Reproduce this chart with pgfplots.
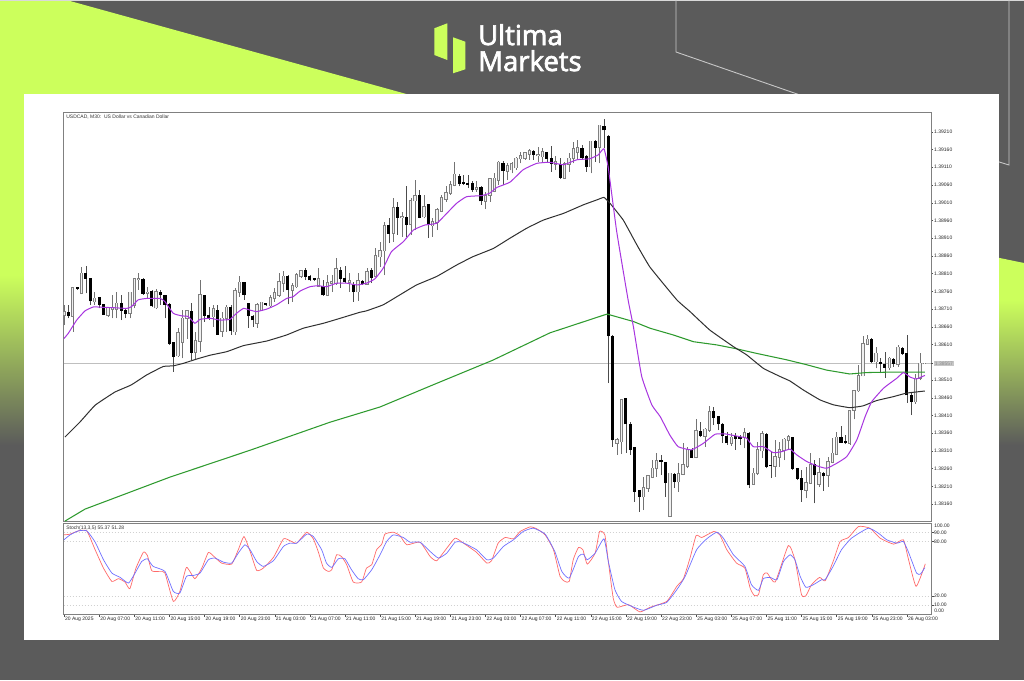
\documentclass[border=0pt]{standalone}
\usepackage{fontspec}
\usepackage{pgfplots}
\usepackage{pgfplotstable}
\pgfplotsset{compat=1.18}
\setmainfont{Liberation Sans}
\newfontfamily\logofont[FakeBold=2.5]{Open Sans}
\definecolor{lime}{HTML}{CCFF5C}
\definecolor{dark}{HTML}{5B5B5B}
\definecolor{maPurple}{HTML}{A835E0}
\definecolor{maBlack}{HTML}{303030}
\definecolor{maGreen}{HTML}{2E9A2E}
\definecolor{stRed}{HTML}{FF6A6A}
\definecolor{stBlue}{HTML}{7070FF}
\definecolor{frameC}{HTML}{808080}

\pgfplotstableread{
i close open high low
0 1.38703 1.38693 1.38722 1.38665
2 1.38770 1.38691 1.38773 1.38646
4 1.38811 1.38754 1.38830 1.38752
7 1.38740 1.38731 1.38759 1.38722
10 1.38714 1.38693 1.38717 1.38689
11 1.38714 1.38710 1.38750 1.38684
12 1.38726 1.38710 1.38759 1.38684
15 1.38757 1.38698 1.38759 1.38684
16 1.38795 1.38722 1.38797 1.38712
17 1.38795 1.38793 1.38811 1.38764
19 1.38757 1.38754 1.38773 1.38740
21 1.38759 1.38714 1.38767 1.38710
26 1.38644 1.38579 1.38656 1.38576
27 1.38684 1.38616 1.38707 1.38571
28 1.38705 1.38684 1.38707 1.38627
30 1.38620 1.38588 1.38646 1.38566
31 1.38750 1.38620 1.38792 1.38590
34 1.38710 1.38689 1.38722 1.38660
36 1.38684 1.38648 1.38703 1.38632
37 1.38715 1.38684 1.38722 1.38646
39 1.38761 1.38646 1.38769 1.38637
40 1.38785 1.38757 1.38802 1.38745
44 1.38722 1.38670 1.38726 1.38658
45 1.38729 1.38707 1.38731 1.38706
47 1.38742 1.38720 1.38750 1.38717
48 1.38756 1.38740 1.38770 1.38731
49 1.38786 1.38750 1.38811 1.38745
50 1.38802 1.38783 1.38818 1.38759
52 1.38775 1.38764 1.38783 1.38731
53 1.38806 1.38773 1.38811 1.38769
54 1.38818 1.38802 1.38820 1.38797
58 1.38795 1.38775 1.38825 1.38773
60 1.38783 1.38750 1.38806 1.38748
61 1.38787 1.38783 1.38806 1.38759
62 1.38823 1.38783 1.38853 1.38778
65 1.38789 1.38786 1.38811 1.38759
67 1.38789 1.38759 1.38811 1.38733
69 1.38816 1.38781 1.38825 1.38778
71 1.38861 1.38802 1.38881 1.38800
72 1.38875 1.38858 1.38900 1.38830
73 1.38945 1.38875 1.38955 1.38806
75 1.38996 1.38924 1.39023 1.38900
77 1.38971 1.38968 1.38985 1.38914
79 1.39016 1.38949 1.39024 1.38919
80 1.39030 1.39016 1.39074 1.38933
82 1.38999 1.38971 1.39032 1.38966
84 1.38957 1.38945 1.38966 1.38914
85 1.38990 1.38955 1.38994 1.38933
86 1.39024 1.38987 1.39032 1.38985
87 1.39037 1.39021 1.39056 1.39013
88 1.39060 1.39037 1.39072 1.39032
89 1.39090 1.39060 1.39124 1.39056
94 1.39051 1.39048 1.39070 1.39041
96 1.39029 1.39015 1.39041 1.38992
97 1.39077 1.39032 1.39079 1.39013
98 1.39079 1.39043 1.39093 1.39040
99 1.39124 1.39074 1.39128 1.39060
101 1.39114 1.39100 1.39121 1.39074
102 1.39119 1.39103 1.39126 1.39093
103 1.39135 1.39109 1.39138 1.39103
104 1.39143 1.39134 1.39152 1.39121
105 1.39150 1.39135 1.39154 1.39131
106 1.39156 1.39147 1.39161 1.39131
108 1.39145 1.39143 1.39168 1.39126
109 1.39154 1.39140 1.39164 1.39126
112 1.39126 1.39119 1.39143 1.39103
114 1.39119 1.39079 1.39126 1.39077
115 1.39135 1.39119 1.39150 1.39098
116 1.39162 1.39135 1.39181 1.39121
117 1.39164 1.39152 1.39187 1.39131
120 1.39183 1.39112 1.39184 1.39093
122 1.39228 1.39166 1.39230 1.39121
126 1.38341 1.38332 1.38346 1.38299
127 1.38454 1.38336 1.38456 1.38301
132 1.38205 1.38181 1.38237 1.38143
133 1.38240 1.38205 1.38242 1.38195
134 1.38261 1.38237 1.38284 1.38233
135 1.38283 1.38261 1.38303 1.38237
138 1.38247 1.38126 1.38249 1.38125
140 1.38245 1.38223 1.38275 1.38195
141 1.38270 1.38245 1.38332 1.38242
142 1.38313 1.38268 1.38322 1.38261
144 1.38366 1.38292 1.38399 1.38289
146 1.38371 1.38352 1.38374 1.38322
147 1.38421 1.38369 1.38437 1.38364
152 1.38348 1.38332 1.38360 1.38324
155 1.38362 1.38348 1.38374 1.38317
157 1.38247 1.38216 1.38261 1.38214
158 1.38313 1.38247 1.38336 1.38242
159 1.38358 1.38311 1.38367 1.38289
162 1.38294 1.38268 1.38341 1.38237
163 1.38313 1.38292 1.38336 1.38266
164 1.38343 1.38313 1.38346 1.38284
165 1.38350 1.38341 1.38355 1.38313
169 1.38220 1.38200 1.38266 1.38176
170 1.38270 1.38220 1.38303 1.38219
172 1.38249 1.38216 1.38289 1.38209
174 1.38280 1.38242 1.38294 1.38209
175 1.38303 1.38278 1.38346 1.38275
176 1.38348 1.38300 1.38364 1.38299
179 1.38424 1.38332 1.38426 1.38327
180 1.38480 1.38426 1.38482 1.38399
181 1.38522 1.38480 1.38553 1.38477
182 1.38612 1.38522 1.38633 1.38520
183 1.38625 1.38612 1.38637 1.38609
185 1.38585 1.38562 1.38604 1.38543
188 1.38571 1.38545 1.38576 1.38538
190 1.38602 1.38554 1.38609 1.38548
194 1.38515 1.38449 1.38527 1.38443
195 1.38557 1.38515 1.38587 1.38510
196 1.38557 1.38556 1.38557 1.38556
}\upbars

\pgfplotstableread{
i open close high low
1 1.38701 1.38691 1.38722 1.38684
3 1.38770 1.38767 1.38773 1.38764
5 1.38811 1.38797 1.38832 1.38754
6 1.38797 1.38733 1.38797 1.38722
8 1.38742 1.38722 1.38742 1.38712
9 1.38722 1.38695 1.38723 1.38693
13 1.38726 1.38707 1.38750 1.38679
14 1.38707 1.38698 1.38712 1.38684
18 1.38795 1.38754 1.38797 1.38750
20 1.38759 1.38719 1.38764 1.38717
22 1.38756 1.38750 1.38764 1.38722
23 1.38750 1.38723 1.38750 1.38684
24 1.38723 1.38613 1.38726 1.38609
25 1.38616 1.38576 1.38616 1.38533
29 1.38705 1.38588 1.38726 1.38566
32 1.38750 1.38691 1.38750 1.38675
33 1.38691 1.38684 1.38717 1.38679
35 1.38707 1.38639 1.38722 1.38637
38 1.38715 1.38648 1.38722 1.38637
41 1.38785 1.38752 1.38785 1.38736
42 1.38726 1.38691 1.38726 1.38658
43 1.38689 1.38679 1.38693 1.38660
46 1.38726 1.38722 1.38726 1.38719
51 1.38802 1.38764 1.38806 1.38723
55 1.38818 1.38802 1.38825 1.38792
56 1.38802 1.38792 1.38806 1.38789
57 1.38797 1.38794 1.38799 1.38789
59 1.38773 1.38750 1.38792 1.38748
63 1.38818 1.38797 1.38830 1.38769
64 1.38797 1.38787 1.38832 1.38783
66 1.38778 1.38759 1.38787 1.38731
68 1.38787 1.38781 1.38792 1.38778
70 1.38818 1.38800 1.38825 1.38783
74 1.38945 1.38924 1.38966 1.38896
76 1.38996 1.38969 1.39013 1.38919
78 1.38969 1.38949 1.39057 1.38914
81 1.39032 1.38969 1.39046 1.38966
83 1.39004 1.38947 1.39004 1.38910
90 1.39084 1.39065 1.39090 1.39056
91 1.39067 1.39064 1.39088 1.39060
92 1.39065 1.39062 1.39087 1.39051
93 1.39065 1.39046 1.39070 1.39041
95 1.39053 1.39015 1.39056 1.39004
100 1.39120 1.39100 1.39128 1.39060
107 1.39156 1.39145 1.39159 1.39131
110 1.39151 1.39134 1.39154 1.39126
111 1.39134 1.39119 1.39171 1.39098
113 1.39119 1.39081 1.39135 1.39077
118 1.39164 1.39137 1.39173 1.39131
119 1.39140 1.39112 1.39145 1.39098
121 1.39183 1.39166 1.39187 1.39126
123 1.39225 1.39215 1.39246 1.39164
124 1.39197 1.38635 1.39201 1.38501
125 1.38634 1.38341 1.38637 1.38322
128 1.38457 1.38386 1.38457 1.38305
129 1.38386 1.38315 1.38393 1.38299
130 1.38319 1.38195 1.38319 1.38167
131 1.38198 1.38181 1.38200 1.38139
136 1.38284 1.38281 1.38299 1.38242
137 1.38278 1.38220 1.38280 1.38181
139 1.38245 1.38223 1.38247 1.38205
143 1.38313 1.38292 1.38317 1.38289
145 1.38364 1.38352 1.38393 1.38350
148 1.38423 1.38405 1.38433 1.38383
149 1.38407 1.38386 1.38407 1.38369
150 1.38386 1.38352 1.38388 1.38332
151 1.38352 1.38332 1.38364 1.38327
153 1.38350 1.38346 1.38360 1.38313
154 1.38348 1.38346 1.38355 1.38327
156 1.38360 1.38214 1.38362 1.38205
160 1.38358 1.38266 1.38360 1.38261
161 1.38270 1.38268 1.38308 1.38233
166 1.38348 1.38261 1.38350 1.38256
167 1.38261 1.38233 1.38261 1.38228
168 1.38233 1.38200 1.38256 1.38167
171 1.38273 1.38242 1.38284 1.38162
173 1.38247 1.38239 1.38252 1.38198
177 1.38348 1.38334 1.38380 1.38332
178 1.38336 1.38332 1.38355 1.38329
184 1.38625 1.38562 1.38628 1.38557
186 1.38559 1.38556 1.38571 1.38529
187 1.38554 1.38545 1.38590 1.38515
189 1.38569 1.38557 1.38571 1.38548
191 1.38600 1.38584 1.38602 1.38581
192 1.38585 1.38468 1.38637 1.38446
193 1.38468 1.38449 1.38473 1.38411
}\downbars

\pgfplotstableread{
i v
0 1.38627
1 1.38642
2.9 1.38679
4.8 1.38705
6.7 1.38716
9 1.38715
11.2 1.38714
14.3 1.38712
15.4 1.38717
16.9 1.38736
18.8 1.38740
21.9 1.38740
23 1.38731
24.9 1.38698
26.8 1.38691
28.3 1.38689
29.8 1.38670
31 1.38681
33.3 1.38684
35.5 1.38679
37.8 1.38681
39.3 1.38698
40.9 1.38712
42.4 1.38707
43.9 1.38703
46.2 1.38710
48.4 1.38722
50.7 1.38740
52.2 1.38745
53.8 1.38761
56 1.38773
57.9 1.38776
59.8 1.38773
62.1 1.38783
64.4 1.38783
66.7 1.38778
68.9 1.38783
70.8 1.38795
72.7 1.38825
74.6 1.38872
77.3 1.38900
79.6 1.38933
82.2 1.38947
84.9 1.38952
87.2 1.38980
89.4 1.39008
91.7 1.39027
95.1 1.39030
97 1.39037
98.6 1.39053
101.6 1.39068
104.6 1.39103
107.7 1.39121
110.7 1.39124
113.8 1.39117
116.8 1.39131
119.8 1.39134
121.7 1.39145
123 1.39162
124 1.39107
125.9 1.38929
128.5 1.38736
129.7 1.38661
131.6 1.38520
133.9 1.38440
135.8 1.38407
138 1.38355
139.9 1.38322
142.9 1.38313
145.6 1.38331
148.3 1.38357
150.6 1.38358
154 1.38350
155.5 1.38346
157 1.38322
159.3 1.38322
161.6 1.38305
163.5 1.38308
165.4 1.38315
166.9 1.38299
169.2 1.38280
171.5 1.38268
173.7 1.38261
176 1.38275
178.3 1.38294
180.6 1.38341
182.5 1.38407
184 1.38449
186.7 1.38487
189.7 1.38515
191.2 1.38531
192.8 1.38518
194.2 1.38513
196.1 1.38523
}\mafast

\pgfplotstableread{
i v
0.2 1.38349
3.6 1.38391
7.1 1.38439
11.6 1.38476
15.3 1.38496
18.8 1.38524
22.6 1.38548
24.9 1.38550
27.2 1.38557
30.2 1.38569
33.3 1.38580
37.1 1.38590
40.9 1.38607
46.2 1.38620
50.7 1.38637
54.5 1.38656
59.1 1.38670
62.9 1.38684
67.4 1.38701
68.9 1.38705
72.7 1.38722
76.5 1.38750
80.3 1.38778
84.9 1.38802
89.4 1.38834
93.2 1.38858
97.8 1.38881
101.6 1.38910
105.4 1.38938
109.2 1.38961
113.8 1.38980
118.3 1.39004
121.4 1.39018
123 1.39025
124.4 1.39008
127.4 1.38961
130.5 1.38891
133.5 1.38828
139.6 1.38736
142.6 1.38703
147.1 1.38651
152.5 1.38604
155.5 1.38581
159.3 1.38543
163.1 1.38520
165.4 1.38507
168.4 1.38482
172.2 1.38454
175.3 1.38440
179 1.38432
182 1.38437
185.1 1.38452
188.9 1.38463
191.9 1.38473
196.1 1.38479
}\mamid

\pgfplotstableread{
i v
0.2 1.38112
4.8 1.38146
24.1 1.38236
42.4 1.38312
60.6 1.38391
72 1.38434
84 1.38496
97.7 1.38566
110.7 1.38643
123.7 1.38696
129.7 1.38675
133.5 1.38656
138.8 1.38637
143.4 1.38618
148.7 1.38609
153.2 1.38598
157.8 1.38585
164.6 1.38567
169.2 1.38553
173.7 1.38538
179 1.38527
182.8 1.38531
187.4 1.38532
196.1 1.38532
}\maslow

\pgfplotstableread{
i v
0 87.2
1.4 88
3.3 91.6
5.2 91.6
7.1 70.8
9 50.7
10.9 36.1
12.4 39.1
13.9 35.4
15 28.1
16.4 50.7
18.1 68.2
19 64.6
20 47.8
21.9 47.1
23 45.3
24.9 14.2
26.4 25.2
27.9 51.5
29.8 39.1
31.4 50.7
32.9 67.9
34.4 62.4
35.9 56.2
38.2 55.1
39.7 70.8
41 85.4
42.4 69
43.9 48.2
45.4 50.7
47.7 62.4
50 82.8
51.5 80.7
53 78.1
55.3 90.1
56.8 82.8
57.9 69
59.1 50.7
60.2 47.1
61 48.9
62.1 65.3
63.2 63.5
64.4 54.4
65.9 35.4
67.8 35.4
68.9 50.7
70.1 54.4
71.2 70.8
72.4 77
73.1 88
75 90.1
76.5 86.5
78.1 76.3
81.1 79.2
83.4 63.5
84.9 58.8
87.2 72.6
89.1 83.6
91 78.1
94 67.9
96.3 56.2
97.4 58.8
98.9 78.1
100.5 84.3
102.4 82.8
103.9 90.9
106.2 96
107.7 93.8
109.6 87.2
111.5 70.8
113 41.6
114.1 36.1
115.1 36.1
116 59.9
117.2 73.4
118.2 70.8
119.2 55.1
121 67.2
122 90.9
123.2 87.2
124 58
125.1 17.9
126 7.7
128.6 10.6
131.2 2.6
133.5 7.7
137.3 14.2
139.6 30.7
141.1 39.1
142.6 61.7
144 86.5
145.3 84.3
148 90.9
149.4 87.2
151 70.8
153.2 56.2
155.1 50.7
156.3 28.8
157.2 20.8
158.2 21.5
159.3 43.4
160.2 45.3
162 35.4
165 75.5
166.5 59.9
168 21.5
169 20.4
170.3 32.5
172.1 40.5
173.4 36.9
175.2 58
176.8 79.9
178.7 84.3
181 96.4
183.6 94.5
185.9 83.6
189 77
191.2 81.8
192.3 61.7
194.1 30.7
196.2 55.37
}\stochk

\pgfplotstableread{
i v
0 81.8
1.4 87.2
3.3 91.6
5.2 91.6
7.1 79.2
9 59.9
10.9 45.3
12.8 40.5
14.7 34.3
16.2 45.3
17.7 58
19 60.9
20.3 52.6
23 47.1
24.9 25.2
26.4 23.4
27.9 41.6
29.5 42.7
31 45.3
32.9 59.9
34.4 61.7
36.3 57.3
38.2 56.2
39.7 67.2
41.2 76.3
42.4 70.8
43.9 58
45.4 52.6
47.7 58.8
50 74.5
51.5 78.1
53 78.1
55.3 88
56.8 85.4
58.7 70.8
59.8 56.2
61 51.5
62.5 60.9
64 60.9
65.5 48.9
67 39.1
68.2 38
70.1 48.9
72 65.3
73.5 79.9
75 87.2
77.3 84.3
78.8 79.2
81.1 79.2
83.4 69
85.3 61.7
87.2 67.2
89.1 79.2
90.6 79.2
94 70.8
96.3 59.9
97.8 61.7
100.1 74.5
102.4 81.8
104.6 90.9
106.9 94.5
109.6 88
111.8 69
113.4 47.1
115.1 39.8
117.2 63.5
118.3 66.1
119.2 59.9
121 67.2
123 82.8
124 58
125.5 27
127 14.2
129.3 8.8
132 4.4
135 9.9
137.3 13.1
139.6 27
141.5 41.6
144.1 70.8
146.4 82.8
148.7 90.1
150.2 83.6
152.5 65.3
155.1 52.6
156.6 32.5
158.2 26.3
159.3 39.1
160.9 40.5
162.4 38
163.9 58
165.4 65.3
166.5 59.9
167.7 41.6
169 29.6
170.7 32.5
172.6 38
173.4 38
175.2 52.6
177.1 70.8
179.4 83.6
183.2 94.5
185.5 89.1
187.4 81.8
189.7 78.1
191.2 79.9
192.3 69
194.2 45.3
195.1 44.2
196.1 51.28
}\stochd

\pgfplotsset{candle/.style={draw=none,no markers,forget plot,error bars/.cd,y dir=plus,y explicit,error mark=none,error bar style={#1}}}

\begin{document}
\begin{tikzpicture}
\useasboundingbox (0,0) rectangle (1024pt,680pt);

% ---------- page background, in pixel coordinates ----------
\begin{axis}[at={(0pt,0pt)},anchor=south west,scale only axis,
  width=1024pt,height=680pt,xmin=0,xmax=1024,ymin=0,ymax=680,y dir=reverse,
  hide axis,clip=false]
\addplot[draw=none,fill=dark] coordinates {(0,0)(1024,0)(1024,680)(0,680)} -- cycle;
% lime, upper left
\addplot[draw=none,fill=lime] coordinates {(0,1)(70,1)(410,95)(410,100)(30,100)(30,275)(0,275)} -- cycle;
\addplot[draw=none,bottom color=dark,top color=lime] coordinates {(0,275)(30,275)(30,445)(0,445)} -- cycle;
% lime, right
\addplot[draw=none,fill=lime] coordinates {(990,256)(1024,263)(1024,300)(990,300)} -- cycle;
\addplot[draw=none,bottom color=dark,top color=lime] coordinates {(990,300)(1024,300)(1024,445)(990,445)} -- cycle;
% thin top line
\addplot[draw=none,fill=black!15] coordinates {(0,0)(1024,0)(1024,1)(0,1)} -- cycle;
% outline strokes
\addplot[draw=black!22,line width=0.9pt] coordinates {(676,0)(676,52)(800,95)};
\addplot[draw=black!22,line width=0.9pt] coordinates {(1009,0)(1009,165)(996,161)};
% white panel
\addplot[draw=none,fill=white] coordinates {(24,94)(999,94)(999,640)(24,640)} -- cycle;
% logo
\addplot[draw=none,fill=lime] coordinates {(434.3,28.3)(447.3,23.3)(447.3,60)(434.3,55)} -- cycle;
\addplot[draw=none,fill=lime] coordinates {(453,37.3)(465.3,41.7)(465.3,69.3)(453,73.3)} -- cycle;
\node[anchor=base west,inner sep=0pt,text=white,font=\logofont\fontsize{27.5}{27.5}\selectfont] at (axis cs:478,45) {Ultima};
\node[anchor=base west,inner sep=0pt,text=white,font=\logofont\fontsize{27.5}{27.5}\selectfont] at (axis cs:478,71) {Markets};
\end{axis}

% ---------- price panel ----------
\begin{axis}[at={(63.5pt,158.5pt)},anchor=south west,scale only axis,
  width=867.5pt,height=408.5pt,
  xmin=-0.11,xmax=197.5,ymin=1.38111,ymax=1.39263,
  clip mode=individual,
  axis line style={draw=frameC,line width=1pt},
  xtick=\empty,
  ytick={1.3816,1.3821,1.3826,1.3831,1.3836,1.3841,1.3846,1.3851,1.3861,1.3866,1.3871,1.3876,1.3881,1.3886,1.3891,1.3896,1.3901,1.3906,1.3911,1.3916,1.3921},
  ytick pos=right,yticklabel pos=right,
  tick align=outside,major tick length=2pt,
  tick style={draw=black!70,line width=0.4pt},
  scaled y ticks=false,
  yticklabel style={font=\fontsize{5}{5}\selectfont,text=black!85,inner sep=0pt,xshift=1pt,
    /pgf/number format/fixed,/pgf/number format/precision=5,/pgf/number format/fixed zerofill,/pgf/number format/assume math mode=true},
  extra y ticks={1.38557},
  extra y tick labels={1.38557},
  extra y tick style={yticklabel style={fill=black!22,text=black!45,inner sep=0.7pt}},
]
\addplot[black!25,line width=0.6pt] coordinates {(-0.11,1.38557)(197.5,1.38557)};
% wicks
\addplot[candle={draw=black!55,line width=0.5pt}]
  table[x=i,y=low,y error plus expr=\thisrow{high}-\thisrow{low}] {\upbars};
\addplot[candle={draw=black!70,line width=0.5pt}]
  table[x=i,y=low,y error plus expr=\thisrow{high}-\thisrow{low}] {\downbars};
% up bodies: outline and pale fill
\addplot[candle={draw=black!50,line width=3.4pt}]
  table[x=i,y expr=\thisrow{open}-0.00002,y error plus expr=\thisrow{close}-\thisrow{open}+0.00004] {\upbars};
\addplot[candle={draw=black!6,line width=1.4pt}]
  table[x=i,y=open,y error plus expr=\thisrow{close}-\thisrow{open}] {\upbars};
% down bodies
\addplot[candle={draw=black,line width=3.1pt}]
  table[x=i,y expr=\thisrow{close}-0.00001,y error plus expr=\thisrow{open}-\thisrow{close}+0.00002] {\downbars};
% moving averages
\addplot[maGreen,line width=1.05pt] table[x=i,y=v] {\maslow};
\addplot[maBlack,line width=1pt,smooth,tension=0.2] table[x=i,y=v] {\mamid};
\addplot[maPurple,line width=1pt,smooth,tension=0.25] table[x=i,y=v] {\mafast};
\node[anchor=west,inner sep=0pt,font=\fontsize{5}{5}\selectfont,text=black!80] at (rel axis cs:0.003,0.99) {USDCAD, M30:\ \ US Dollar vs Canadian Dollar};
\end{axis}

% ---------- stochastic panel ----------
\begin{axis}[at={(63.5pt,65.7pt)},anchor=south west,scale only axis,
  width=867.5pt,height=91.1pt,
  xmin=-0.11,xmax=197.5,ymin=0,ymax=100,
  clip mode=individual,
  axis line style={draw=frameC,line width=1pt},
  xtick={0,8,16,24,32,40,48,56,64,72,80,88,96,104,112,120,128,136,144,152,160,168,176,184,192},
  xticklabels={20 Aug 2025,20 Aug 07:00,20 Aug 11:00,20 Aug 15:00,20 Aug 19:00,20 Aug 23:00,21 Aug 03:00,21 Aug 07:00,21 Aug 11:00,21 Aug 15:00,21 Aug 19:00,21 Aug 23:00,22 Aug 03:00,22 Aug 07:00,22 Aug 11:00,22 Aug 15:00,22 Aug 19:00,22 Aug 23:00,25 Aug 03:00,25 Aug 07:00,25 Aug 11:00,25 Aug 15:00,25 Aug 19:00,25 Aug 23:00,26 Aug 03:00},
  xtick pos=bottom,
  ytick={10,20,80,90},
  yticklabels={10.00,20.00,80.00,90.00},
  ytick pos=right,yticklabel pos=right,
  tick align=outside,major tick length=2.5pt,
  tick style={draw=black!70,line width=0.4pt},
  xticklabel style={font=\fontsize{5}{5}\selectfont,text=black!85,anchor=north west,inner sep=0pt,xshift=1pt,yshift=-0.3pt},
  yticklabel style={font=\fontsize{5}{5}\selectfont,text=black!85,inner sep=0pt,xshift=0.5pt},
]
\addplot[black!18,dash pattern=on 1.5pt off 1.5pt,line width=0.4pt] coordinates {(-0.11,90)(197.5,90)};
\addplot[black!18,dash pattern=on 1.5pt off 1.5pt,line width=0.4pt] coordinates {(-0.11,80)(197.5,80)};
\addplot[black!18,dash pattern=on 1.5pt off 1.5pt,line width=0.4pt] coordinates {(-0.11,20)(197.5,20)};
\addplot[black!18,dash pattern=on 1.5pt off 1.5pt,line width=0.4pt] coordinates {(-0.11,10)(197.5,10)};
\addplot[stRed,line width=0.7pt,smooth,tension=0.3] table[x=i,y=v] {\stochk};
\addplot[stBlue,line width=0.7pt,smooth,tension=0.3] table[x=i,y=v] {\stochd};
\node[anchor=west,inner sep=0pt,font=\fontsize{5}{5}\selectfont,text=black!80] at (rel axis cs:0.003,0.945) {Stoch(13,3,5) 55.37 51.28};
\node[anchor=west,inner sep=0pt,font=\fontsize{5}{5}\selectfont,text=black!85] at (axis cs:198.2,97) {100.00};
\node[anchor=west,inner sep=0pt,font=\fontsize{5}{5}\selectfont,text=black!85] at (axis cs:198.2,3.5) {0.00};
\end{axis}
\end{tikzpicture}
\end{document}
